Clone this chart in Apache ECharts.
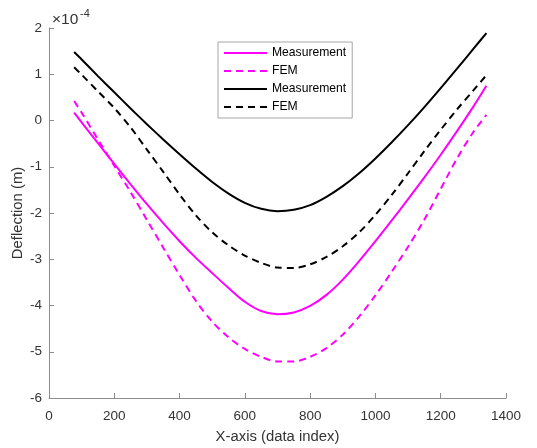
<!DOCTYPE html>
<html>
<head>
<meta charset="utf-8">
<script src="https://cdn.jsdelivr.net/npm/echarts@6/dist/echarts.min.js"></script>
<style>html,body{margin:0;padding:0;background:#fff;}#c{width:537px;height:448px;}</style>
</head>
<body>
<div id="c"></div>
<script>
// x positions (data index)
var xIdx = [77, 100, 150, 200, 250, 300, 350, 400, 450, 500, 550, 600, 650, 700, 750, 800, 850, 900, 950, 1000, 1050, 1100, 1150, 1200, 1250, 1300, 1340];
// deflection values in units of 1e-4 m
var measA = [0.17, -0.04, -0.49, -0.94, -1.38, -1.81, -2.22, -2.61, -2.97, -3.30, -3.62, -3.92, -4.12, -4.19, -4.15, -4.01, -3.77, -3.44, -3.04, -2.61, -2.16, -1.70, -1.23, -0.74, -0.23, 0.30, 0.75];
var femA  = [0.42, 0.17, -0.41, -0.98, -1.55, -2.15, -2.75, -3.34, -3.90, -4.35, -4.69, -4.94, -5.11, -5.21, -5.21, -5.11, -4.92, -4.63, -4.24, -3.78, -3.27, -2.73, -2.14, -1.48, -0.82, -0.25, 0.12];
var measB = [1.48, 1.32, 0.96, 0.61, 0.26, -0.08, -0.41, -0.73, -1.04, -1.33, -1.58, -1.78, -1.91, -1.96, -1.93, -1.83, -1.65, -1.42, -1.14, -0.82, -0.47, -0.10, 0.29, 0.70, 1.12, 1.55, 1.89];
var femB  = [1.15, 0.99, 0.63, 0.27, -0.15, -0.63, -1.11, -1.60, -2.05, -2.42, -2.70, -2.92, -3.08, -3.18, -3.19, -3.11, -2.95, -2.72, -2.42, -2.04, -1.61, -1.14, -0.66, -0.20, 0.24, 0.65, 0.98];
var legendNames = ['Measurement', 'FEM', 'Measurement ', 'FEM '];
var xTicks = {min: 0, max: 1400, interval: 200};
var yTicks = {min: -6, max: 2, interval: 1};

function pairs(ys) { return xIdx.map(function (x, i) { return [x, ys[i]]; }); }

var chart = echarts.init(document.getElementById('c'), null, {renderer: 'canvas'});
var font = 'Liberation Sans, Arial, Helvetica, sans-serif';
var axisGray = '#8c8c8c';
var labelColor = '#333333';

function mk(name, ys, color, dashed) {
  return {
    name: name, type: 'line', data: pairs(ys), showSymbol: false, symbol: 'none',
    smooth: 0.3, animation: false,
    lineStyle: {color: color, width: 2, type: dashed ? [7, 5] : 'solid'},
    itemStyle: {color: color}
  };
}

chart.setOption({
  animation: false,
  backgroundColor: '#fff',
  grid: {left: 49, right: 31, top: 28, bottom: 50, containLabel: false, outerBoundsMode: 'none'},
  graphic: [
    {type: 'text', left: 52, top: 12, style: {text: '\u00d710', font: '15.5px ' + font, fill: labelColor}},
    {type: 'text', left: 80, top: 8, style: {text: '-4', font: '11px ' + font, fill: labelColor}}
  ],
  legend: {
    orient: 'vertical', left: 218, top: 42,
    padding: [5, 6, 5, 5], itemWidth: 43, itemHeight: 12, itemGap: 6,
    backgroundColor: '#fff', borderColor: '#a6a6a6', borderWidth: 1, borderRadius: 0,
    data: legendNames,
    itemStyle: {opacity: 0},
    formatter: function (n) { return n.trim(); },
    textStyle: {fontSize: 12.15, fontFamily: font, color: '#000'}
  },
  xAxis: {
    type: 'value', min: xTicks.min, max: xTicks.max, interval: xTicks.interval,
    name: 'X-axis (data index)', nameLocation: 'middle', nameGap: 31, nameMoveOverlap: false,
    nameTextStyle: {fontSize: 14.85, fontFamily: font, color: labelColor},
    axisLine: {show: true, onZero: false, lineStyle: {color: axisGray, width: 1}},
    axisTick: {show: true, inside: true, length: 5, lineStyle: {color: axisGray}},
    axisLabel: {fontSize: 13.5, fontFamily: font, color: labelColor, margin: 11,
      formatter: function (v) { return String(v); }},
    splitLine: {show: false}
  },
  yAxis: {
    type: 'value', min: yTicks.min, max: yTicks.max, interval: yTicks.interval,
    name: 'Deflection (m)', nameLocation: 'middle', nameGap: 24, nameMoveOverlap: false,
    nameTextStyle: {fontSize: 14.85, fontFamily: font, color: labelColor},
    axisLine: {show: true, onZero: false, lineStyle: {color: axisGray, width: 1}},
    axisTick: {show: true, inside: true, length: 5, lineStyle: {color: axisGray}},
    axisLabel: {fontSize: 13.5, fontFamily: font, color: labelColor, margin: 7,
      formatter: function (v) { return String(v); }},
    splitLine: {show: false}
  },
  series: [
    mk(legendNames[0], measA, '#ff00ff', false),
    mk(legendNames[1], femA, '#ff00ff', true),
    mk(legendNames[2], measB, '#000000', false),
    mk(legendNames[3], femB, '#000000', true)
  ]
});
</script>
</body>
</html>
